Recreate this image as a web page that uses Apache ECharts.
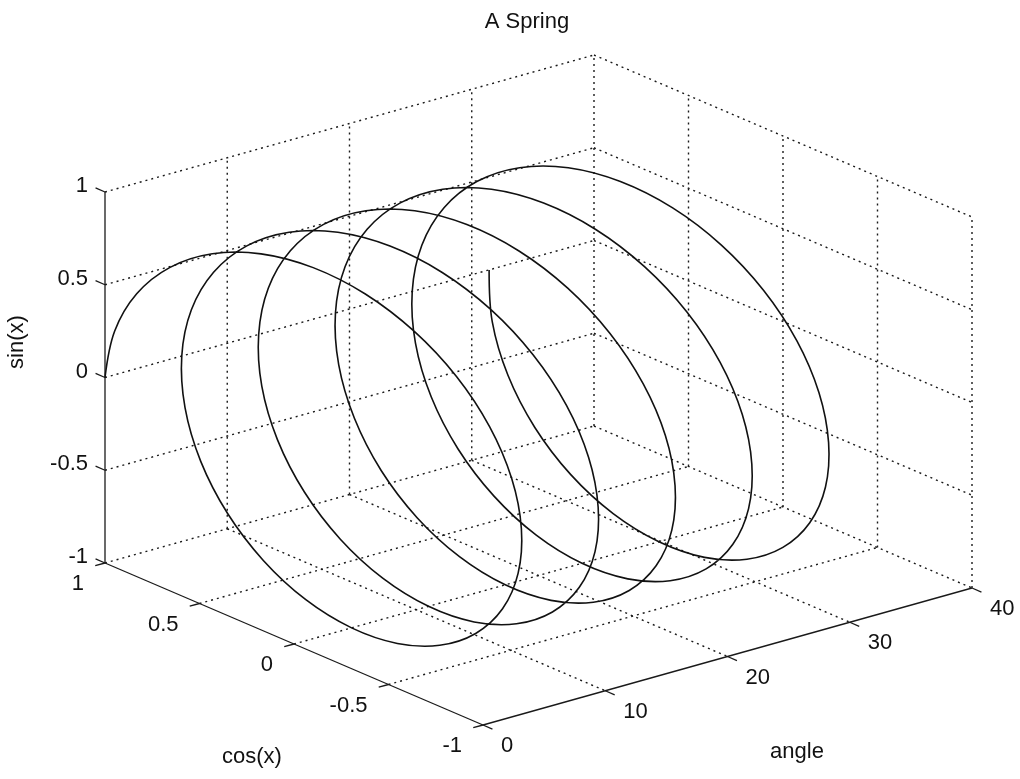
<!DOCTYPE html>
<html><head><meta charset="utf-8">
<script src="https://cdn.jsdelivr.net/npm/echarts@6/dist/echarts.min.js"></script>
<style>html,body{margin:0;padding:0;background:#fff}#chart{width:1020px;height:779px}</style>
</head><body><div id="chart"></div>
<script>
// ---------- data ----------
const chartTitle = 'A Spring';
const angleName = 'angle', cosName = 'cos(x)', sinName = 'sin(x)';
const angleTicks = [0, 10, 20, 30, 40];
const cosTicks = [1, 0.5, 0, -0.5, -1];
const sinTicks = [-1, -0.5, 0, 0.5, 1];

const angle = [
  0.00, 0.26, 0.52, 0.79, 1.05, 1.31, 1.57, 1.83, 2.09, 2.36, 2.62, 2.88,
  3.14, 3.40, 3.67, 3.93, 4.19, 4.45, 4.71, 4.97, 5.24, 5.50, 5.76, 6.02,
  6.28, 6.54, 6.81, 7.07, 7.33, 7.59, 7.85, 8.12, 8.38, 8.64, 8.90, 9.16,
  9.42, 9.69, 9.95, 10.21, 10.47, 10.73, 11.00, 11.26, 11.52, 11.78, 12.04, 12.30,
  12.57, 12.83, 13.09, 13.35, 13.61, 13.88, 14.14, 14.40, 14.66, 14.92, 15.18, 15.45,
  15.71, 15.97, 16.23, 16.49, 16.76, 17.02, 17.28, 17.54, 17.80, 18.06, 18.33, 18.59,
  18.85, 19.11, 19.37, 19.63, 19.90, 20.16, 20.42, 20.68, 20.94, 21.21, 21.47, 21.73,
  21.99, 22.25, 22.51, 22.78, 23.04, 23.30, 23.56, 23.82, 24.09, 24.35, 24.61, 24.87,
  25.13, 25.39, 25.66, 25.92, 26.18, 26.44, 26.70, 26.97, 27.23, 27.49, 27.75, 28.01,
  28.27, 28.54, 28.80, 29.06, 29.32, 29.58, 29.85, 30.11, 30.37, 30.63, 30.89, 31.15,
  31.42
];
const cosx = [
  1, 0.966, 0.866, 0.707, 0.5, 0.259, 0, -0.259, -0.5, -0.707, -0.866, -0.966,
  -1, -0.966, -0.866, -0.707, -0.5, -0.259, 0, 0.259, 0.5, 0.707, 0.866, 0.966,
  1, 0.966, 0.866, 0.707, 0.5, 0.259, 0, -0.259, -0.5, -0.707, -0.866, -0.966,
  -1, -0.966, -0.866, -0.707, -0.5, -0.259, 0, 0.259, 0.5, 0.707, 0.866, 0.966,
  1, 0.966, 0.866, 0.707, 0.5, 0.259, 0, -0.259, -0.5, -0.707, -0.866, -0.966,
  -1, -0.966, -0.866, -0.707, -0.5, -0.259, 0, 0.259, 0.5, 0.707, 0.866, 0.966,
  1, 0.966, 0.866, 0.707, 0.5, 0.259, 0, -0.259, -0.5, -0.707, -0.866, -0.966,
  -1, -0.966, -0.866, -0.707, -0.5, -0.259, 0, 0.259, 0.5, 0.707, 0.866, 0.966,
  1, 0.966, 0.866, 0.707, 0.5, 0.259, 0, -0.259, -0.5, -0.707, -0.866, -0.966,
  -1, -0.966, -0.866, -0.707, -0.5, -0.259, 0, 0.259, 0.5, 0.707, 0.866, 0.966,
  1
];
const sinx = [
  0, 0.259, 0.5, 0.707, 0.866, 0.966, 1, 0.966, 0.866, 0.707, 0.5, 0.259,
  0, -0.259, -0.5, -0.707, -0.866, -0.966, -1, -0.966, -0.866, -0.707, -0.5, -0.259,
  0, 0.259, 0.5, 0.707, 0.866, 0.966, 1, 0.966, 0.866, 0.707, 0.5, 0.259,
  0, -0.259, -0.5, -0.707, -0.866, -0.966, -1, -0.966, -0.866, -0.707, -0.5, -0.259,
  0, 0.259, 0.5, 0.707, 0.866, 0.966, 1, 0.966, 0.866, 0.707, 0.5, 0.259,
  0, -0.259, -0.5, -0.707, -0.866, -0.966, -1, -0.966, -0.866, -0.707, -0.5, -0.259,
  0, 0.259, 0.5, 0.707, 0.866, 0.966, 1, 0.966, 0.866, 0.707, 0.5, 0.259,
  0, -0.259, -0.5, -0.707, -0.866, -0.966, -1, -0.966, -0.866, -0.707, -0.5, -0.259,
  0, 0.259, 0.5, 0.707, 0.866, 0.966, 1, 0.966, 0.866, 0.707, 0.5, 0.259,
  0, -0.259, -0.5, -0.707, -0.866, -0.966, -1, -0.966, -0.866, -0.707, -0.5, -0.259,
  0
];

// ---------- oblique 3D projection onto a plain 2D value plane ----------
const A_MIN = angleTicks[0], A_MAX = angleTicks[angleTicks.length - 1];
const ORIGIN = [105, 563];            // (angle=0, cos=1, sin=-1)
const VA = [489 / 40, -137 / 40];     // per unit of angle
const VC = [-378 / 2, -162 / 2];      // per unit of cos
const VS = [0, -371 / 2];             // per unit of sin
function proj(a, c, s) {
  return [ORIGIN[0] + a * VA[0] + (c - 1) * VC[0] + (s + 1) * VS[0],
          ORIGIN[1] + a * VA[1] + (c - 1) * VC[1] + (s + 1) * VS[1]];
}

// grid / axis segments in 3D: [a1,c1,s1,a2,c2,s2,solid]
const segs = [];
angleTicks.forEach(a => {
  segs.push([a, 1, -1, a, -1, -1, a === A_MIN ? 1 : 0]);
  segs.push([a, 1, -1, a, 1, 1, a === A_MIN ? 1 : 0]);
});
cosTicks.forEach(c => {
  segs.push([A_MIN, c, -1, A_MAX, c, -1, c === -1 ? 1 : 0]);
  if (c !== 1) segs.push([A_MAX, c, -1, A_MAX, c, 1, 0]);
});
sinTicks.forEach(s => {
  if (s !== -1) {
    segs.push([A_MIN, 1, s, A_MAX, 1, s, 0]);
    segs.push([A_MAX, 1, s, A_MAX, -1, s, 0]);
  }
});
sinTicks.forEach(s => segs.push([A_MIN, 1, s, A_MIN, 1.05, s, 1]));
cosTicks.forEach(c => segs.push([A_MIN, c, -1, A_MIN - 0.8, c, -1, 1]));
angleTicks.forEach(a => segs.push([a, -1, -1, a, -1.05, -1, 1]));

const labels = [];
sinTicks.forEach(s => labels.push({ p: [A_MIN, 1, s], dx: -17, dy: -6, text: String(s), align: 'right' }));
cosTicks.forEach(c => labels.push({ p: [A_MIN, c, -1], dx: -21, dy: 21, text: String(c), align: 'right' }));
angleTicks.forEach(a => labels.push({ p: [a, -1, -1], dx: 18, dy: 21, text: String(a), align: 'left' }));

const FONT = '22px "Liberation Sans", Arial, sans-serif';

const chart = echarts.init(document.getElementById('chart'), null, { renderer: 'canvas' });
chart.setOption({
  backgroundColor: '#ffffff',
  animation: false,
  grid: { left: 0, right: 0, top: 0, bottom: 0 },
  xAxis: { type: 'value', min: 0, max: 1020, show: false },
  yAxis: { type: 'value', min: 0, max: 779, inverse: true, show: false },
  graphic: [
    { type: 'text', x: 527, y: 22, style: { text: chartTitle, font: FONT, fill: '#111', align: 'center', verticalAlign: 'middle' } },
    { type: 'text', x: 252, y: 757, style: { text: cosName, font: FONT, fill: '#111', align: 'center', verticalAlign: 'middle' } },
    { type: 'text', x: 797, y: 752, style: { text: angleName, font: FONT, fill: '#111', align: 'center', verticalAlign: 'middle' } },
    { type: 'text', x: 17, y: 342, rotation: Math.PI / 2, style: { text: sinName, font: FONT, fill: '#111', align: 'center', verticalAlign: 'middle' } }
  ],
  series: [
    {
      type: 'custom',
      silent: true,
      data: segs,
      renderItem: function (params, api) {
        const d = segs[params.dataIndex];
        const p1 = api.coord(proj(d[0], d[1], d[2]));
        const p2 = api.coord(proj(d[3], d[4], d[5]));
        return {
          type: 'line',
          shape: { x1: p1[0], y1: p1[1], x2: p2[0], y2: p2[1] },
          style: d[6] ? { stroke: '#1a1a1a', lineWidth: 1.3 }
                      : { stroke: '#1a1a1a', lineWidth: 1.4, lineDash: [2, 4] }
        };
      }
    },
    {
      type: 'custom',
      silent: true,
      z: 5,
      data: [[0, 0]],
      renderItem: function (params, api) {
        const pts = angle.map((a, i) => api.coord(proj(a, cosx[i], sinx[i])));
        return {
          type: 'polyline',
          shape: { points: pts, smooth: 0.35 },
          style: { stroke: '#111', lineWidth: 1.6, fill: null }
        };
      }
    },
    {
      type: 'custom',
      silent: true,
      data: labels.map((l, i) => [i, i]),
      renderItem: function (params, api) {
        const l = labels[params.dataIndex];
        const p = api.coord(proj(l.p[0], l.p[1], l.p[2]));
        return {
          type: 'text',
          x: p[0] + l.dx, y: p[1] + l.dy,
          style: { text: l.text, font: FONT, fill: '#111', align: l.align, verticalAlign: 'middle' }
        };
      }
    }
  ]
});
</script>
</body></html>
